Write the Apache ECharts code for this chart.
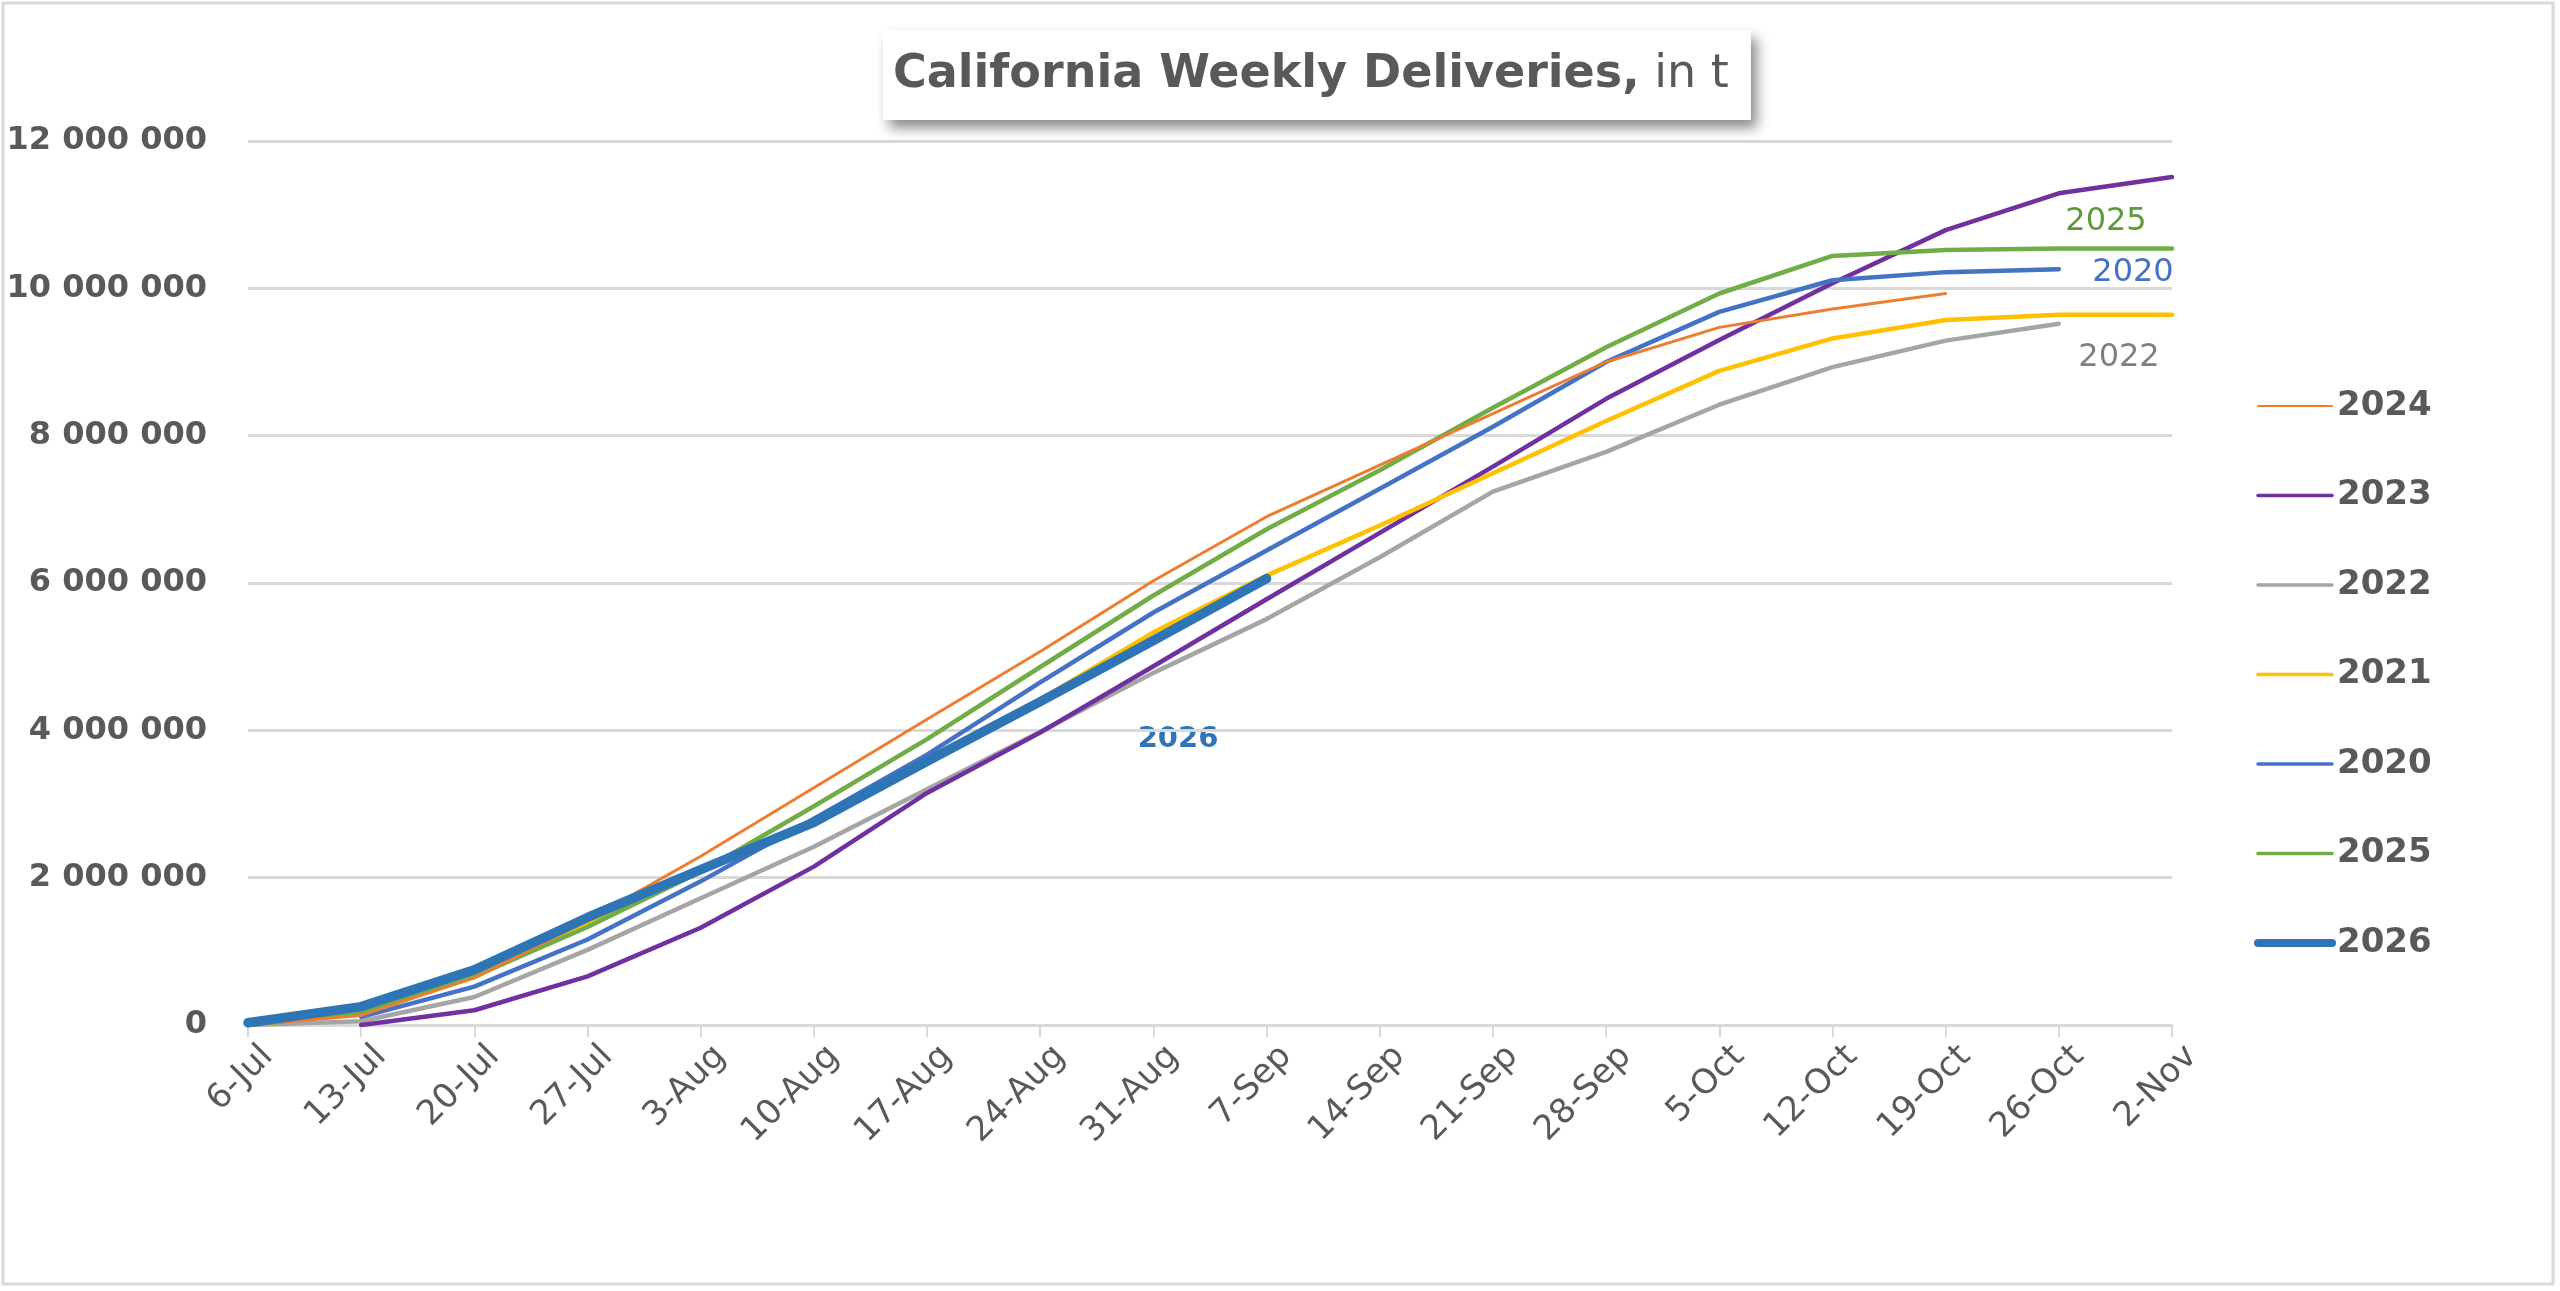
<!DOCTYPE html>
<html>
<head>
<meta charset="utf-8">
<title>California Weekly Deliveries</title>
<script src="https://cdn.jsdelivr.net/npm/echarts@6.0.0/dist/echarts.min.js"></script>
<style>
  html, body { margin: 0; padding: 0; background: #fff; }
  #chart { width: 2560px; height: 1291px; }
</style>
</head>
<body>
<div id="chart"></div>
<script>
// week labels
const weeks = ['6-Jul', '13-Jul', '20-Jul', '27-Jul', '3-Aug', '10-Aug', '17-Aug', '24-Aug', '31-Aug',
  '7-Sep', '14-Sep', '21-Sep', '28-Sep', '5-Oct', '12-Oct', '19-Oct', '26-Oct', '2-Nov']

// cumulative deliveries, t
const y2024 = [0, 130000, 640000, 1420000, 2290000, 3220000, 4150000, 5070000, 6030000, 6900000,
  7600000, 8300000, 9000000, 9470000, 9720000, 9930000, null, null]
const y2023 = [null, 0, 200000, 660000, 1320000, 2150000, 3150000, 3970000, 4870000, 5780000,
  6680000, 7580000, 8500000, 9300000, 10070000, 10790000, 11290000, 11510000]
const y2022 = [0, 50000, 380000, 1020000, 1720000, 2420000, 3200000, 3980000, 4780000, 5510000,
  6350000, 7240000, 7780000, 8420000, 8930000, 9290000, 9520000, null]
const y2021 = [0, 170000, 650000, 1380000, 2080000, 2750000, 3550000, 4420000, 5330000, 6100000,
  6780000, 7490000, 8200000, 8880000, 9320000, 9570000, 9640000, 9640000]
const y2020 = [null, 110000, 520000, 1160000, 1950000, 2800000, 3670000, 4650000, 5600000, 6440000,
  7280000, 8120000, 9000000, 9680000, 10110000, 10220000, 10260000, null]
const y2025 = [0, 170000, 660000, 1330000, 2080000, 2970000, 3880000, 4860000, 5830000, 6730000,
  7530000, 8380000, 9200000, 9930000, 10440000, 10520000, 10540000, 10540000]
const y2026 = [30000, 250000, 750000, 1460000, 2110000, 2750000, 3580000, 4390000, 5220000, 6060000]

const legendOrder = ['2024', '2023', '2022', '2021', '2020', '2025', '2026']

const FONT = 'DejaVu Sans'
const GREY = '#595959'

const colors = {
  '2024': '#ED7D31', '2023': '#7030A0', '2022': '#A5A5A5', '2021': '#FFC000',
  '2020': '#4472C4', '2025': '#70AD47', '2026': '#2E75B6'
}
const widths = { '2024': 3, '2023': 4.5, '2022': 4.5, '2021': 4.5, '2020': 4.5, '2025': 4.5, '2026': 9.5 }

const chart = echarts.init(document.getElementById('chart'))

const mkLine = (name, data) => ({
  name: name,
  type: 'line',
  data: data,
  symbol: 'none',
  smooth: false,
  connectNulls: false,
  z: name === '2026' ? 5 : 2,
  lineStyle: { color: colors[name], width: widths[name], cap: 'round', join: 'round' },
  itemStyle: { color: colors[name] }
})

const option = {
  backgroundColor: '#fff',
  animation: false,
  title: {
    text: '{b|California Weekly Deliveries,}{r| in t}',
    left: 883,
    top: 28,
    padding: [22, 22, 22, 10],
    backgroundColor: '#fff',
    shadowColor: 'rgba(0,0,0,0.45)',
    shadowBlur: 12,
    shadowOffsetX: 6,
    shadowOffsetY: 8,
    textStyle: {
      rich: {
        b: { fontFamily: FONT, fontSize: 46, fontWeight: 'bold', color: GREY, lineHeight: 50 },
        r: { fontFamily: FONT, fontSize: 46, fontWeight: 'normal', color: GREY, lineHeight: 50 }
      }
    }
  },
  legend: {
    data: legendOrder.map(n => ({
      name: n,
      itemStyle: { opacity: 0 },
      lineStyle: { color: colors[n], width: n === '2026' ? 8 : widths[n] - 1, cap: 'round' }
    })),
    orient: 'vertical',
    left: 2249,
    top: 384,
    itemWidth: 74,
    itemHeight: 14,
    itemGap: 55.5,
    textStyle: { fontFamily: FONT, fontSize: 34, fontWeight: 'bold', color: GREY, lineHeight: 34 }
  },
  grid: { left: 248, right: 388, top: 141, bottom: 266, containLabel: false },
  xAxis: {
    type: 'category',
    data: weeks,
    boundaryGap: false,
    axisLine: { lineStyle: { color: '#d9d9d9', width: 3 } },
    axisTick: { show: true, length: 12, alignWithLabel: true, lineStyle: { color: '#d9d9d9', width: 2 } },
    axisLabel: {
      rotate: 45, fontFamily: FONT, fontSize: 34, color: GREY, margin: 22, interval: 0,
      verticalAlign: 'top', padding: [0, -11, 0, 0]
    },
    splitLine: { show: false }
  },
  yAxis: {
    type: 'value',
    min: 0,
    max: 12000000,
    interval: 2000000,
    axisLine: { show: false },
    axisTick: { show: false },
    axisLabel: {
      fontFamily: FONT, fontSize: 32, fontWeight: 'bold', color: GREY, margin: 41,
      formatter: v => String(v).replace(/\B(?=(\d{3})+(?!\d))/g, ' ')
    },
    splitLine: { lineStyle: { color: '#d9d9d9', width: 3 } }
  },
  series: [
    mkLine('2022', y2022),
    mkLine('2023', y2023),
    mkLine('2021', y2021),
    mkLine('2020', y2020),
    mkLine('2025', y2025),
    mkLine('2024', y2024),
    mkLine('2026', y2026)
  ],
  graphic: [
    {
      type: 'rect', silent: true, z: -10,
      shape: { x: 3, y: 3, width: 2550, height: 1281 },
      style: { fill: 'none', stroke: '#d9d9d9', lineWidth: 3 }
    },
    { type: 'text', x: 2106, y: 222, style: { text: '2025', fill: '#5E9A3A', font: '32px "DejaVu Sans"', align: 'center', verticalAlign: 'middle' } },
    { type: 'text', x: 2133, y: 273, style: { text: '2020', fill: '#4472C4', font: '32px "DejaVu Sans"', align: 'center', verticalAlign: 'middle' } },
    { type: 'text', x: 2119, y: 358, style: { text: '2022', fill: '#7F7F7F', font: '32px "DejaVu Sans"', align: 'center', verticalAlign: 'middle' } },
    { type: 'text', x: 1178, y: 739, style: { text: '2026', fill: '#2E75B6', font: 'bold 29px "DejaVu Sans"', align: 'center', verticalAlign: 'middle' } }
  ]
}

chart.setOption(option)
</script>
</body>
</html>
